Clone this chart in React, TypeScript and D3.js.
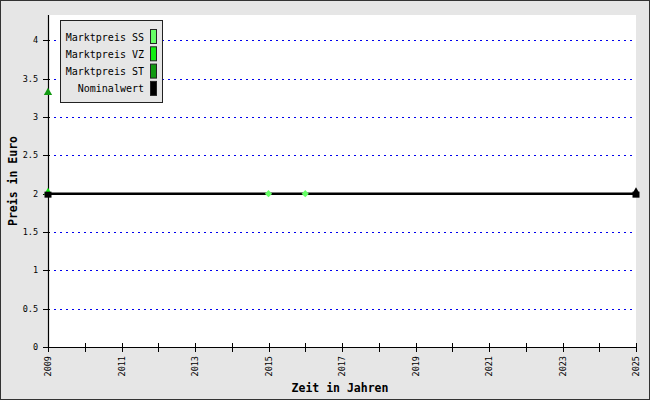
import React from "react";
import * as d3 from "d3";

const W = 650;
const H = 400;

const yearsDomain = [2009, 2025];
const yMax = 4.33;
const yTicks = [0, 0.5, 1, 1.5, 2, 2.5, 3, 3.5, 4];
const xTickYears = d3.range(2009, 2026, 1);
const xLabelYears = [2009, 2011, 2013, 2015, 2017, 2019, 2021, 2023, 2025];

const nominalYears = [2009, 2025];
const nominalValues = [2, 2];
const ssYears = [2015, 2016];
const ssValues = [2, 2];
const vzYears = [2009];
const vzValues = [2];
const stYears = [2009];
const stValues = [3.33];

const legendLabels = ["Marktpreis SS", "Marktpreis VZ", "Marktpreis ST", "Nominalwert"];
const legendColors = ["#66ff66", "#11ee11", "#119911", "#000000"];

const mono = "'DejaVu Sans Mono', 'Liberation Mono', monospace";

export default function App() {
  const left = 48, right = 636, top = 15, bottom = 347;
  const x = d3.scaleLinear().domain(yearsDomain).range([left, right]);
  const y = d3.scaleLinear().domain([0, yMax]).range([bottom, top]);
  const line = d3.line<[number, number]>().x(d => x(d[0])).y(d => y(d[1]));
  const nominal: [number, number][] = nominalYears.map((yr, i) => [yr, nominalValues[i]]);
  const tri = d3.symbol().type(d3.symbolTriangle).size(30)() as string;
  const square = d3.symbol().type(d3.symbolSquare).size(26)() as string;

  return (
    <svg width={W} height={H} style={{ position: "absolute", left: 0, top: 0 }} fontFamily={mono}>
      <rect x={0.5} y={0.5} width={W - 1} height={H - 1} fill="#e6e6e6" stroke="#333" strokeWidth={1} />
      <rect x={left} y={top} width={right - left} height={bottom - top} fill="#ffffff" />
      {yTicks.filter(t => t > 0).map(t => (
        <line key={"g" + t} x1={left} x2={right} y1={Math.round(y(t)) + 0.5} y2={Math.round(y(t)) + 0.5}
          stroke="#0000ee" strokeWidth={1.2} strokeDasharray="2,4" />
      ))}
      {/* axes */}
      <line x1={left + 0.5} x2={left + 0.5} y1={top} y2={bottom} stroke="#000" strokeWidth={1.2} />
      <line x1={left} x2={right} y1={bottom + 0.5} y2={bottom + 0.5} stroke="#000" strokeWidth={1.2} />
      {yTicks.map(t => (
        <g key={"yt" + t}>
          <line x1={left - 5} x2={left + 2} y1={Math.round(y(t)) + 0.5} y2={Math.round(y(t)) + 0.5} stroke="#000" />
          <text x={38} y={y(t)} dy="0.35em" textAnchor="end" fontSize={8.5} fill="#000">{t}</text>
        </g>
      ))}
      {xTickYears.map(yr => (
        <line key={"xt" + yr} x1={Math.round(x(yr)) + 0.5} x2={Math.round(x(yr)) + 0.5} y1={bottom - 4} y2={bottom + 5} stroke="#000" />
      ))}
      {xLabelYears.map(yr => (
        <text key={"xl" + yr} transform={`translate(${x(yr) + 3},${356}) rotate(-90)`} textAnchor="end" fontSize={8.5} fill="#000">{yr}</text>
      ))}
      <text x={340} y={392} textAnchor="middle" fontSize={11.5} fontWeight="bold" fill="#000">Zeit in Jahren</text>
      <text transform={`translate(17,181) rotate(-90)`} textAnchor="middle" fontSize={11.5} fontWeight="bold" fill="#000">Preis in Euro</text>

      {/* series */}
      {vzYears.map((yr, i) => (
        <path key={"vz" + i} d={tri} transform={`translate(${x(yr)},${y(vzValues[i]) - 1})`} fill={legendColors[1]} />
      ))}
      <path d={line(nominal) || ""} fill="none" stroke="#000" strokeWidth={2.5} />
      {nominal.map((d, i) => (
        <g key={"nm" + i}>
          <rect x={x(d[0]) - 3.5} y={y(d[1]) - 2} width={7} height={6} fill="#000" />
          {i === 1 && <path d={d3.symbol().type(d3.symbolTriangle).size(14)() as string} transform={`translate(${x(d[0])},${y(d[1]) - 3})`} fill="#000" />}
        </g>
      ))}
      {ssYears.map((yr, i) => (
        <path key={"ss" + i} d={square} transform={`translate(${x(yr)},${y(ssValues[i])}) rotate(45)`} fill={legendColors[0]} />
      ))}
      {stYears.map((yr, i) => (
        <path key={"st" + i} d={tri} transform={`translate(${x(yr)},${y(stValues[i]) + 1})`} fill={legendColors[2]} />
      ))}

      {/* legend */}
      <rect x={60.5} y={20.5} width={102} height={82} fill="#e6e6e6" stroke="#222" strokeWidth={1} />
      {legendLabels.map((lab, i) => (
        <g key={"lg" + i}>
          <text x={144} y={37 + i * 17.3} dy="0.35em" textAnchor="end" fontSize={10} fill="#000">{lab}</text>
          <rect x={150.5} y={29.5 + i * 17.3} width={6} height={14} fill={legendColors[i]} stroke="#222" strokeWidth={1} />
        </g>
      ))}
    </svg>
  );
}
